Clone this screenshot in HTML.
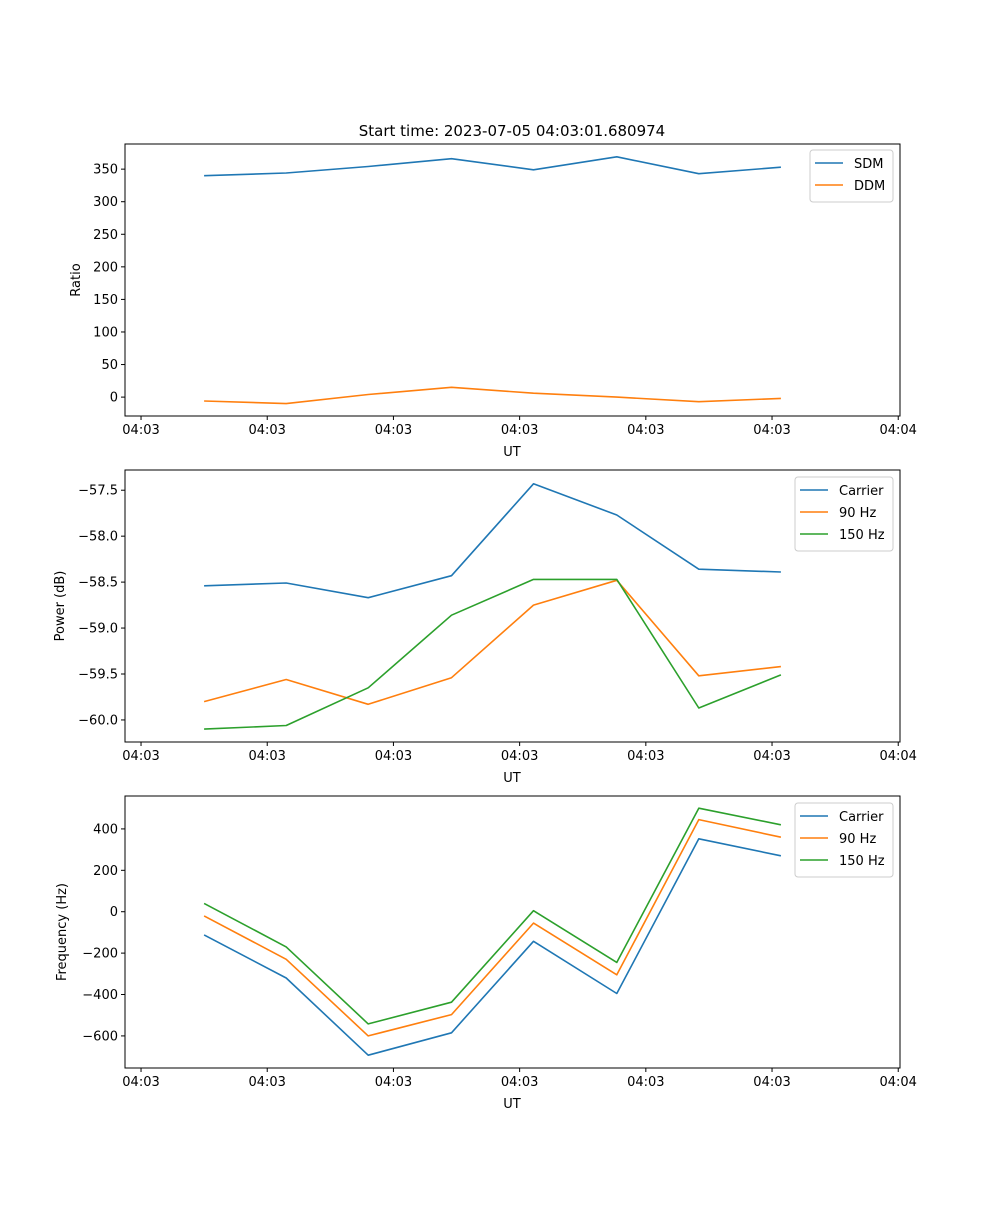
<!DOCTYPE html>
<html><head><meta charset="utf-8"><style>
body{margin:0;background:#fff;font-family:"Liberation Sans","DejaVu Sans",sans-serif}
svg text{font-family:"DejaVu Sans","Liberation Sans",sans-serif;font-size:13px;fill:#000}
</style></head><body>
<svg id="c" width="1000" height="1200" xmlns="http://www.w3.org/2000/svg"></svg>
<script>
const times = [5.0, 11.5, 18.0, 24.6, 31.1, 37.7, 44.2, 50.7];
const xTickVals = [0, 10, 20, 30, 40, 50, 60];
const xTickLabels = ["04:03","04:03","04:03","04:03","04:03","04:03","04:04"];
const sdm = [340, 344, 354, 366, 349, 369, 343, 353];
const ddm = [-6, -10, 4, 15, 6, 0, -7, -2];
const powCarrier = [-58.54, -58.51, -58.67, -58.43, -57.43, -57.77, -58.36, -58.39];
const pow90 = [-59.80, -59.56, -59.83, -59.54, -58.75, -58.48, -59.52, -59.42];
const pow150 = [-60.10, -60.06, -59.65, -58.86, -58.47, -58.47, -59.87, -59.51];
const freqCarrier = [-112, -320, -693, -585, -143, -395, 352, 270];
const freq90 = [-20, -230, -600, -497, -55, -305, 445, 360];
const freq150 = [40, -170, -542, -437, 5, -245, 500, 420];
const ratioTicks = [0, 50, 100, 150, 200, 250, 300, 350];
const powTicks = [-60.0, -59.5, -59.0, -58.5, -58.0, -57.5];
const freqTicks = [-600, -400, -200, 0, 200, 400];

const NS = "http://www.w3.org/2000/svg";
const svg = document.getElementById('c');
function el(tag, attrs, parent){const e=document.createElementNS(NS,tag);for(const k in attrs)e.setAttribute(k,attrs[k]);(parent||svg).appendChild(e);return e;}
const L=125,R=900;
const xDom=[-1.27,60.14];
function xs(t){return L+(t-xDom[0])/(xDom[1]-xDom[0])*(R-L);}

const tt=el('text',{x:512,y:136,'text-anchor':'middle','font-size':'15'});


tt.textContent='Start time: 2023-07-05 04:03:01.680974';
tt.style.fontSize='15px';

const colors=['#1f77b4','#ff7f0e','#2ca02c'];
function panel(name, top, bot, yDom, yTicks, fmt, ylabel, ylabX, series, names, leg){
  const g=el('g',{});
  
  
  const ys=v=>bot-(v-yDom[0])/(yDom[1]-yDom[0])*(bot-top);
  series.forEach((s,i)=>{
    const p=el('polyline',{points:s.map((v,j)=>xs(times[j]).toFixed(1)+','+ys(v).toFixed(1)).join(' '),fill:'none',stroke:colors[i],'stroke-width':1.6,'stroke-linejoin':'round'},g);
    
    
  });
  const fr=el('rect',{x:L,y:top,width:R-L,height:bot-top,fill:'none',stroke:'#000','stroke-width':1},g);
  
  
  xTickVals.forEach((v,i)=>{
    const x=xs(v);
    el('line',{x1:x,x2:x,y1:bot,y2:bot+4,stroke:'#000'},g);
    const t=el('text',{x:x,y:bot+18,'text-anchor':'middle'},g);
    
    
    t.textContent=xTickLabels[i];
  });
  const xl=el('text',{x:512,y:bot+40,'text-anchor':'middle'},g);
  
  
  xl.textContent='UT';
  yTicks.forEach(v=>{
    const y=ys(v);
    el('line',{x1:L-4,x2:L,y1:y,y2:y,stroke:'#000'},g);
    const t=el('text',{x:L-7,y:y+4.5,'text-anchor':'end'},g);
    
    
    t.textContent=fmt(v);
  });
  const yl=el('text',{x:ylabX,y:(top+bot)/2,'text-anchor':'middle',transform:`rotate(-90 ${ylabX} ${(top+bot)/2})`},g);
  
  
  yl.textContent=ylabel;
  const lg=el('g',{},g);
  
  
  el('rect',{x:leg[0],y:leg[1],width:leg[2],height:8+names.length*22,rx:3,fill:'#fff',stroke:'#ccc'},lg);
  names.forEach((n,i)=>{
    const y=leg[1]+13+i*22;
    el('line',{x1:leg[0]+5,x2:leg[0]+33,y1:y,y2:y,stroke:colors[i],'stroke-width':1.6},lg);
    const t=el('text',{x:leg[0]+44,y:y+5},lg);
    
    
    t.textContent=n;
  });
}
const mfmt=v=>String(v).replace('-','\u2212');
panel('ratio',144,416,[-29,388.6],ratioTicks,v=>mfmt(v),'Ratio',80,[sdm,ddm],['SDM','DDM'],[810,150,83]);
panel('power',470,742,[-60.24,-57.28],powTicks,v=>mfmt(v.toFixed(1)),'Power (dB)',64,[powCarrier,pow90,pow150],['Carrier','90 Hz','150 Hz'],[795,477,98]);
panel('frequency',796,1068,[-755,559],freqTicks,v=>mfmt(v),'Frequency (Hz)',66,[freqCarrier,freq90,freq150],['Carrier','90 Hz','150 Hz'],[795,803,98]);
</script>
</body></html>
